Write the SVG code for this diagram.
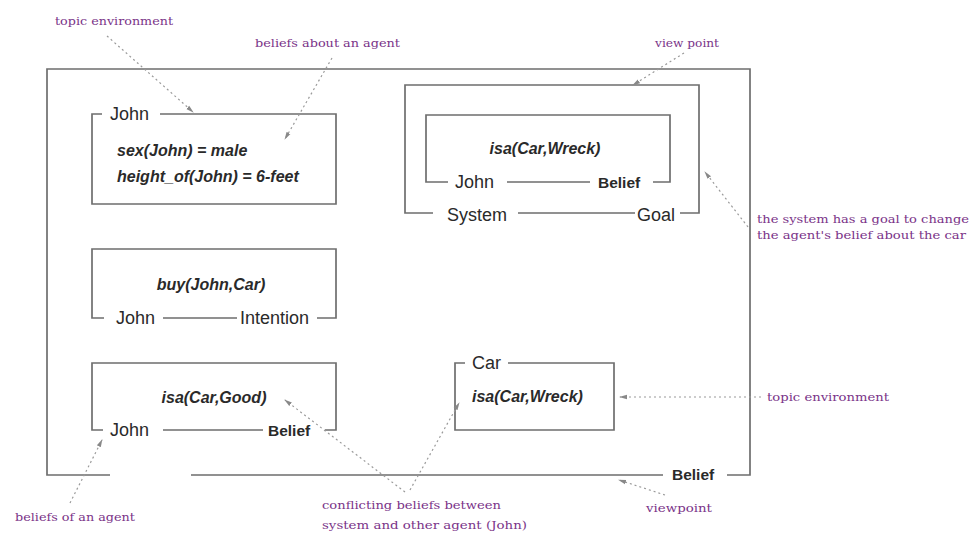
<svg xmlns="http://www.w3.org/2000/svg" width="972" height="534" viewBox="0 0 972 534">
  <style>
    .frame { fill: none; stroke: #6e6e6e; stroke-width: 1.7; }
    .lbl { font-family: "Liberation Sans", Arial, sans-serif; font-size: 18px; fill: #2a2a2a; }
    .kind { font-family: "Liberation Sans", Arial, sans-serif; font-size: 15.5px; font-weight: bold; fill: #2a2a2a; }
    .fact { font-family: "Liberation Sans", Arial, sans-serif; font-size: 16px; font-weight: bold; font-style: italic; fill: #2a2a2a; }
    .note { font-family: "DejaVu Serif", "Liberation Serif", serif; font-size: 11px; fill: #7a3388; }
    .lead { fill: none; stroke: #9a9a9a; stroke-width: 1.2; stroke-dasharray: 2 3; marker-end: url(#tip); }
  </style>
  <defs>
    <marker id="tip" markerWidth="8" markerHeight="6" refX="7" refY="3" orient="auto" markerUnits="userSpaceOnUse">
      <path d="M0,0.8 L8,3 L0,5.2 z" fill="#888"/>
    </marker>
  </defs>

  <rect width="972" height="534" fill="#ffffff"/>

  <!-- outer belief environment (agent label left blank) -->
  <g id="outer-belief">
    <path class="frame" d="M110,475 H47 V69 H750 V475 H727 M663,475 H191"/>
    <text class="kind" x="672" y="480">Belief</text>
  </g>

  <!-- topic environment for John -->
  <g id="john-topic">
    <path class="frame" d="M102,114 H92 V204 H336 V114 H160"/>
    <text class="lbl" x="110" y="120">John</text>
    <text class="fact" x="117" y="156">sex(John) = male</text>
    <text class="fact" x="117" y="182">height_of(John) = 6-feet</text>
  </g>

  <!-- John's intention -->
  <g id="john-intention">
    <path class="frame" d="M104,318 H92 V249 H336 V318 H317 M163,318 H237"/>
    <text class="fact" x="211" y="290" text-anchor="middle">buy(John,Car)</text>
    <text class="lbl" x="116" y="324">John</text>
    <text class="lbl" x="240" y="324">Intention</text>
  </g>

  <!-- John's belief about the car -->
  <g id="john-belief-good">
    <path class="frame" d="M103,430 H92 V363 H336 V430 H325 M163,430 H263"/>
    <text class="fact" x="214" y="403" text-anchor="middle">isa(Car,Good)</text>
    <text class="lbl" x="110" y="436">John</text>
    <text class="kind" x="268" y="436">Belief</text>
  </g>

  <!-- system goal containing the target belief -->
  <g id="system-goal">
    <path class="frame" d="M433,213 H405 V85 H699 V213 H680 M518,213 H635"/>
    <text class="lbl" x="447" y="221">System</text>
    <text class="lbl" x="637" y="221">Goal</text>
  </g>

  <g id="john-belief-wreck">
    <path class="frame" d="M448,182 H426 V115 H670 V182 H653 M507,182 H590"/>
    <text class="fact" x="545" y="154" text-anchor="middle">isa(Car,Wreck)</text>
    <text class="lbl" x="455" y="188">John</text>
    <text class="kind" x="598" y="188">Belief</text>
  </g>

  <!-- topic environment for the car -->
  <g id="car-topic">
    <path class="frame" d="M465,363 H455 V430 H614 V363 H508"/>
    <text class="lbl" x="472" y="369">Car</text>
    <text class="fact" x="472" y="402">isa(Car,Wreck)</text>
  </g>

  <!-- annotation texts -->
  <g id="notes">
    <text class="note" x="55" y="25" textLength="118" lengthAdjust="spacingAndGlyphs">topic environment</text>
    <text class="note" x="255" y="47" textLength="145" lengthAdjust="spacingAndGlyphs">beliefs about an agent</text>
    <text class="note" x="655" y="47" textLength="64" lengthAdjust="spacingAndGlyphs">view point</text>
    <text class="note" x="757" y="223" textLength="212" lengthAdjust="spacingAndGlyphs">the system has a goal to change</text>
    <text class="note" x="757" y="239" textLength="209" lengthAdjust="spacingAndGlyphs">the agent's belief about the car</text>
    <text class="note" x="767" y="401" textLength="122" lengthAdjust="spacingAndGlyphs">topic environment</text>
    <text class="note" x="646" y="512" textLength="66" lengthAdjust="spacingAndGlyphs">viewpoint</text>
    <text class="note" x="322" y="509" textLength="179" lengthAdjust="spacingAndGlyphs">conflicting beliefs between</text>
    <text class="note" x="322" y="529" textLength="205" lengthAdjust="spacingAndGlyphs">system and other agent (John)</text>
    <text class="note" x="15" y="521" textLength="120" lengthAdjust="spacingAndGlyphs">beliefs of an agent</text>
  </g>

  <!-- dotted leader lines from notes to the parts they describe -->
  <g id="connectors">
    <path class="lead" d="M107,36 L193,112"/>
    <path class="lead" d="M332,58 L285,139"/>
    <path class="lead" d="M684,53 L633,85"/>
    <path class="lead" d="M748,227 L705,172"/>
    <path class="lead" d="M761,397 L620,397"/>
    <path class="lead" d="M665,495 L619,480"/>
    <path class="lead" d="M405,492 L285,400"/>
    <path class="lead" d="M410,490 L459,403"/>
    <path class="lead" d="M70,503 L102,440"/>
  </g>
</svg>
